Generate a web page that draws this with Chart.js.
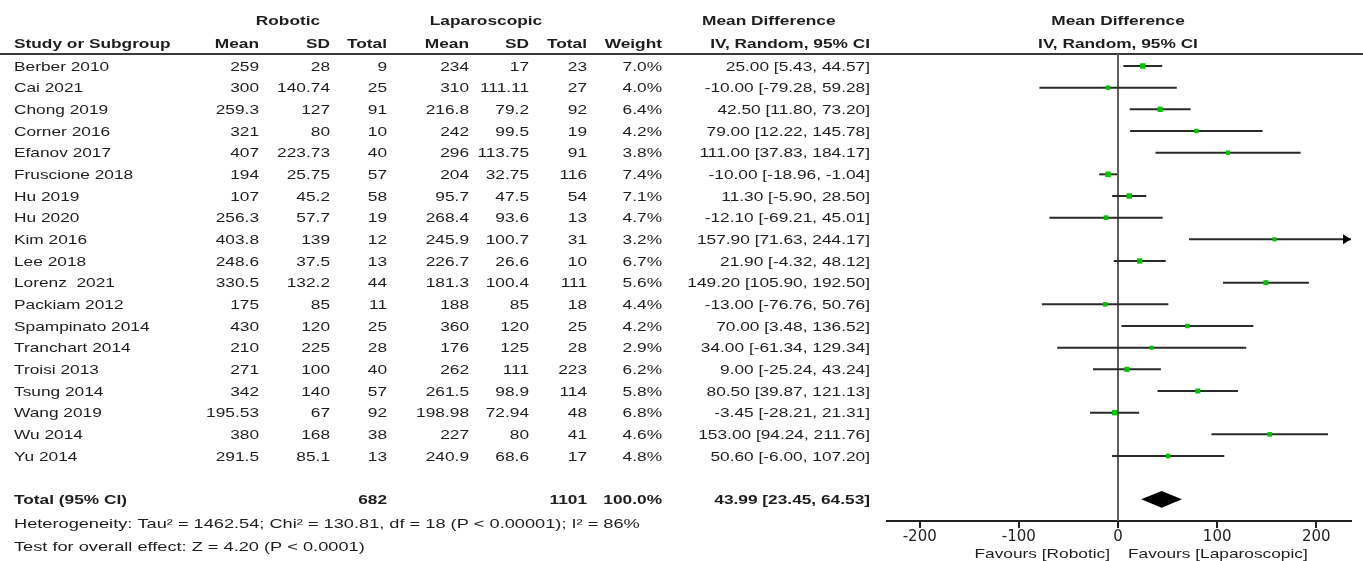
<!DOCTYPE html>
<html>
<head>
<meta charset="utf-8">
<script src="https://cdn.jsdelivr.net/npm/chart.js@4.4.1/dist/chart.umd.min.js"></script>
<style>
  body { margin: 0; background: #fff; }
  canvas { display: block; }
</style>
</head>
<body>
<canvas id="forest" width="1363" height="561"></canvas>
<script>
// Dados dos estudos
const studies = ['Berber 2010', 'Cai 2021', 'Chong 2019', 'Corner 2016', 'Efanov 2017', 'Fruscione 2018', 'Hu 2019', 'Hu 2020', 'Kim 2016', 'Lee 2018', 'Lorenz  2021', 'Packiam 2012', 'Spampinato 2014', 'Tranchart 2014', 'Troisi 2013', 'Tsung 2014', 'Wang 2019', 'Wu 2014', 'Yu 2014'];
const robMean = [259, 300, 259.3, 321, 407, 194, 107, 256.3, 403.8, 248.6, 330.5, 175, 430, 210, 271, 342, 195.53, 380, 291.5];
const robSD = [28, 140.74, 127, 80, 223.73, 25.75, 45.2, 57.7, 139, 37.5, 132.2, 85, 120, 225, 100, 140, 67, 168, 85.1];
const robN = [9, 25, 91, 10, 40, 57, 58, 19, 12, 13, 44, 11, 25, 28, 40, 57, 92, 38, 13];
const lapMean = [234, 310, 216.8, 242, 296, 204, 95.7, 268.4, 245.9, 226.7, 181.3, 188, 360, 176, 262, 261.5, 198.98, 227, 240.9];
const lapSD = [17, 111.11, 79.2, 99.5, 113.75, 32.75, 47.5, 93.6, 100.7, 26.6, 100.4, 85, 120, 125, 111, 98.9, 72.94, 80, 68.6];
const lapN = [23, 27, 92, 19, 91, 116, 54, 13, 31, 10, 111, 18, 25, 28, 223, 114, 48, 41, 17];
const weight = [7.0, 4.0, 6.4, 4.2, 3.8, 7.4, 7.1, 4.7, 3.2, 6.7, 5.6, 4.4, 4.2, 2.9, 6.2, 5.8, 6.8, 4.6, 4.8];
const md = [25.00, -10.00, 42.50, 79.00, 111.00, -10.00, 11.30, -12.10, 157.90, 21.90, 149.20, -13.00, 70.00, 34.00, 9.00, 80.50, -3.45, 153.00, 50.60];
const ciLo = [5.43, -79.28, 11.80, 12.22, 37.83, -18.96, -5.90, -69.21, 71.63, -4.32, 105.90, -76.76, 3.48, -61.34, -25.24, 39.87, -28.21, 94.24, -6.00];
const ciHi = [44.57, 59.28, 73.20, 145.78, 184.17, -1.04, 28.50, 45.01, 244.17, 48.12, 192.50, 50.76, 136.52, 129.34, 43.24, 121.13, 21.31, 211.76, 107.20];

// Resultado combinado
const totalRob = 682;
const totalLap = 1101;
const totalWeight = 100.0;
const pooled = { md: 43.99, lo: 23.45, hi: 64.53 };
const totalRow = 20;

const xTicks = [-200, -100, 0, 100, 200];
const heterogeneity = 'Heterogeneity: Tau² = 1462.54; Chi² = 130.81, df = 18 (P < 0.00001); I² = 86%';
const overallTest = 'Test for overall effect: Z = 4.20 (P < 0.0001)';

const SX = 1.33;
const FONT = '"Liberation Sans", Arial, sans-serif';
const INK = '#1e1e1e';

// Texto esticado horizontalmente (como no original)
function txt(ctx, s, x, y, align, bold, sx = SX) {
    ctx.save();
    ctx.font = (bold ? 'bold ' : '') + '13px ' + FONT;
    ctx.textBaseline = 'middle';
    ctx.textAlign = 'left';
    ctx.fillStyle = INK;
    const w = ctx.measureText(s).width * sx;
    const left = align === 'right' ? x - w : align === 'center' ? x - w / 2 : x;
    ctx.translate(left, y);
    ctx.scale(sx, 1);
    ctx.fillText(s, 0, 0);
    ctx.restore();
}

// Colunas da tabela (borda direita)
const col = { name: 14, rMean: 259, rSD: 330, rN: 387, lMean: 469, lSD: 529, lN: 587, w: 662, ci: 870 };

const forestPlugin = {
    id: 'forest',
    beforeDatasetsDraw(chart) {
        const { ctx, chartArea, scales: { x } } = chart;
        // linha do cabeçalho
        ctx.save();
        ctx.strokeStyle = '#3a3a3a';
        ctx.lineWidth = 2;
        ctx.beginPath();
        ctx.moveTo(0, chartArea.top);
        ctx.lineTo(chart.width, chartArea.top);
        ctx.stroke();
        // linha vertical no zero
        const x0 = x.getPixelForValue(0);
        ctx.strokeStyle = '#5e5e5e';
        ctx.beginPath();
        ctx.moveTo(x0, chartArea.top);
        ctx.lineTo(x0, chartArea.bottom);
        ctx.stroke();
        ctx.restore();
    },
    afterDatasetsDraw(chart) {
        const { ctx, chartArea, scales: { x, y } } = chart;
        ctx.save();
        ctx.fillStyle = '#000';
        // setas para IC fora da escala
        ciHi.forEach((hi, i) => {
            if (hi > x.max) {
                const py = y.getPixelForValue(i);
                const px = chartArea.right;
                ctx.beginPath();
                ctx.moveTo(px, py);
                ctx.lineTo(px - 8, py - 5);
                ctx.lineTo(px - 8, py + 5);
                ctx.closePath();
                ctx.fill();
            }
        });
        // losango do total
        const yc = y.getPixelForValue(totalRow);
        const half = Math.abs(y.getPixelForValue(totalRow + 0.39) - yc);
        ctx.beginPath();
        ctx.moveTo(x.getPixelForValue(pooled.lo), yc);
        ctx.lineTo(x.getPixelForValue(pooled.md), yc - half);
        ctx.lineTo(x.getPixelForValue(pooled.hi), yc);
        ctx.lineTo(x.getPixelForValue(pooled.md), yc + half);
        ctx.closePath();
        ctx.fill();
        ctx.restore();
    },
    afterDraw(chart) {
        const { ctx, chartArea, scales: { x, y } } = chart;
        const top = chartArea.top;
        const xMid = x.getPixelForValue(0);

        // cabeçalhos
        txt(ctx, 'Robotic', 288, top - 33, 'center', true);
        txt(ctx, 'Laparoscopic', 486, top - 33, 'center', true);
        txt(ctx, 'Mean Difference', 702, top - 33, 'left', true);
        txt(ctx, 'Study or Subgroup', col.name, top - 10, 'left', true);
        txt(ctx, 'Mean', col.rMean, top - 10, 'right', true);
        txt(ctx, 'SD', col.rSD, top - 10, 'right', true);
        txt(ctx, 'Total', col.rN, top - 10, 'right', true);
        txt(ctx, 'Mean', col.lMean, top - 10, 'right', true);
        txt(ctx, 'SD', col.lSD, top - 10, 'right', true);
        txt(ctx, 'Total', col.lN, top - 10, 'right', true);
        txt(ctx, 'Weight', col.w, top - 10, 'right', true);
        txt(ctx, 'IV, Random, 95% CI', col.ci, top - 10, 'right', true);
        txt(ctx, 'Mean Difference', xMid, top - 33, 'center', true);
        txt(ctx, 'IV, Random, 95% CI', xMid, top - 10, 'center', true);

        // linhas dos estudos
        studies.forEach((s, i) => {
            const py = y.getPixelForValue(i) + 1;
            txt(ctx, s, col.name, py, 'left');
            txt(ctx, String(robMean[i]), col.rMean, py, 'right');
            txt(ctx, String(robSD[i]), col.rSD, py, 'right');
            txt(ctx, String(robN[i]), col.rN, py, 'right');
            txt(ctx, String(lapMean[i]), col.lMean, py, 'right');
            txt(ctx, String(lapSD[i]), col.lSD, py, 'right');
            txt(ctx, String(lapN[i]), col.lN, py, 'right');
            txt(ctx, weight[i].toFixed(1) + '%', col.w, py, 'right');
            txt(ctx, `${md[i].toFixed(2)} [${ciLo[i].toFixed(2)}, ${ciHi[i].toFixed(2)}]`, col.ci, py, 'right');
        });

        // total
        const ty = y.getPixelForValue(totalRow) + 1;
        txt(ctx, 'Total (95% CI)', col.name, ty, 'left', true);
        txt(ctx, String(totalRob), col.rN, ty, 'right', true);
        txt(ctx, String(totalLap), col.lN, ty, 'right', true);
        txt(ctx, totalWeight.toFixed(1) + '%', col.w, ty, 'right', true);
        txt(ctx, `${pooled.md.toFixed(2)} [${pooled.lo.toFixed(2)}, ${pooled.hi.toFixed(2)}]`, col.ci, ty, 'right', true);

        txt(ctx, heterogeneity, col.name, y.getPixelForValue(21.15), 'left', false, 1.4);
        txt(ctx, overallTest, col.name, y.getPixelForValue(22.2), 'left', false, 1.4);

        // rótulos do eixo
        txt(ctx, 'Favours [Robotic]', xMid - 8, chartArea.bottom + 33, 'right');
        txt(ctx, 'Favours [Laparoscopic]', xMid + 10, chartArea.bottom + 33, 'left');
    }
};

const ciSets = studies.map((s, i) => ({
    data: [{ x: ciLo[i], y: i }, { x: ciHi[i], y: i }],
    showLine: true,
    borderColor: '#2a2a2a',
    borderWidth: 2,
    pointRadius: 0,
    order: 1
}));

const pointSet = {
    data: md.map((v, i) => ({ x: v, y: i })),
    pointStyle: 'rect',
    pointRadius: weight.map(w => (3 + 0.35 * w) / Math.SQRT2),
    backgroundColor: '#00c400',
    borderWidth: 0,
    order: 0
};

new Chart(document.getElementById('forest').getContext('2d'), {
    type: 'scatter',
    data: { datasets: [pointSet, ...ciSets] },
    options: {
        responsive: false,
        animation: false,
        layout: { padding: { left: 887, right: 12, top: 54, bottom: 0 } },
        plugins: { legend: { display: false }, tooltip: { enabled: false } },
        scales: {
            x: {
                min: -233,
                max: 235,
                afterBuildTicks: axis => { axis.ticks = xTicks.map(v => ({ value: v })); },
                afterFit: axis => { axis.height = 40; },
                border: { display: true, color: '#222', width: 2 },
                grid: { drawOnChartArea: false, drawTicks: true, tickLength: 7, color: '#222', lineWidth: 2 },
                ticks: { color: '#222', padding: 0, font: { family: 'DejaVu Sans', size: 15 } }
            },
            y: {
                display: false,
                reverse: true,
                min: -0.554,
                max: 21.0
            }
        }
    },
    plugins: [forestPlugin]
});
</script>
</body>
</html>
